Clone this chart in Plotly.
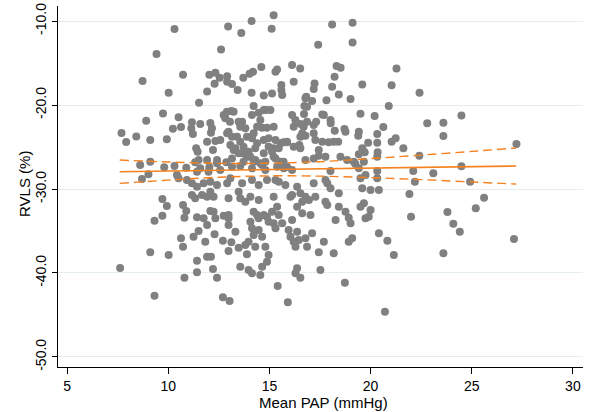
import plotly.graph_objects as go

# ---- scatter data: Mean PAP (mmHg) vs RVLS (%) ----
mean_pap = [
    10.31, 9.42, 8.73, 10.73, 10.02, 12.61, 12.96, 12.03, 12.33, 12.54, 12.29, 12.91, 12.91, 11.92, 11.52,
    13.61, 14.12, 15.11, 15.21, 17.41, 18.10, 19.11, 19.11, 14.60, 14.19, 14.02, 13.71, 13.15, 13.43, 15.38,
    15.30, 16.12, 16.52, 18.32, 18.52, 18.22, 16.20, 15.59, 15.59, 15.63, 15.13, 14.72, 14.12, 17.23, 17.19,
    16.82, 17.11, 17.82, 18.10, 18.43, 19.01, 19.59, 21.04, 21.28, 22.42, 20.90,
    9.74, 8.91, 10.51, 7.69, 7.92, 8.42, 9.11, 9.93, 10.23, 10.63, 11.17, 11.14, 11.22, 11.58, 12.08,
    12.16, 12.11, 11.92, 12.33, 12.57, 11.38, 11.45, 12.21, 12.82, 8.61, 9.11, 9.80, 10.31, 10.89, 11.33,
    11.50, 12.03, 12.41, 12.87, 13.05, 13.48, 13.56, 13.81, 14.39, 14.64, 14.88, 15.21, 14.96, 15.30, 15.70,
    15.87, 14.22, 14.47, 14.84, 14.14, 13.12, 12.90, 16.73, 16.71, 16.12, 16.28, 16.55, 16.86, 17.31, 17.61,
    18.02, 18.03, 19.50, 20.20, 20.63, 20.33, 19.42, 19.39, 18.23, 18.71, 18.76, 18.40, 12.98, 13.15, 13.07,
    13.31, 13.56, 13.72, 13.65, 13.97, 14.14, 14.30, 14.06, 14.30, 13.72, 13.15, 14.96, 15.13, 15.46, 15.87,
    15.30, 15.70, 14.80, 14.64, 16.62, 16.78, 17.19, 17.27, 17.61, 17.93, 16.48, 16.53, 17.44, 17.44, 17.77,
    16.78, 17.19, 19.88, 20.33, 19.59, 19.71, 19.42, 20.35, 19.17, 19.67, 20.33, 21.04, 21.24, 24.49, 22.80,
    23.60, 23.60, 21.62, 22.41, 27.21, 24.49, 22.11, 18.51, 18.84, 19.25, 11.42, 11.58, 11.92, 11.99, 12.41,
    12.57, 13.23, 13.48, 13.89, 14.22, 14.55, 14.72, 15.21, 15.55, 15.87, 12.74, 13.23, 13.65, 13.89, 14.55,
    14.72, 15.05, 12.91, 13.40, 14.22, 14.39, 14.72, 15.21, 15.55, 16.20, 16.53, 16.69, 16.20, 17.19, 17.69,
    16.78, 16.86, 18.18, 19.42, 20.33, 19.75, 19.50, 20.33, 23.10,
    9.02, 8.70, 10.43, 10.51, 10.92, 11.17, 11.42, 11.75, 12.08, 12.41, 12.91, 11.17, 11.33, 11.67, 11.92,
    12.24, 12.08, 9.71, 9.93, 9.71, 9.32, 10.73, 10.89, 10.80, 11.42, 11.75, 11.92, 12.08, 12.24, 12.33,
    12.74, 12.98, 12.98, 10.63, 10.73, 11.25, 11.50, 11.83, 12.29, 12.70, 12.98, 9.11, 10.02, 7.62, 11.92,
    12.11, 11.42, 11.42, 12.21, 12.41, 10.80, 9.32, 12.70, 13.03,
    13.15, 13.56, 14.14, 14.80, 15.38, 15.71, 16.12, 18.02, 13.07, 13.65, 14.14, 14.47, 14.88, 15.30, 15.46,
    15.79, 16.37, 17.19, 17.77, 17.86, 18.02, 19.59, 20.00, 20.41, 18.43, 17.27, 12.98, 13.48, 13.56, 13.81,
    14.06, 14.47, 15.21, 16.12, 16.53, 16.78, 16.95, 16.62, 16.37, 16.04, 17.77, 17.86, 18.43, 18.76, 18.92,
    19.01, 19.50, 19.67, 19.75, 19.91, 20.00, 18.27, 12.98, 13.32, 14.22, 14.39, 14.47, 14.72, 14.88, 14.96,
    15.13, 15.38, 15.46, 15.21, 15.30, 15.63, 16.12, 16.62, 17.03, 14.06, 14.14, 14.22, 13.97, 14.47, 14.64,
    14.80, 14.96, 14.88, 14.64, 14.55, 14.30, 13.81, 13.48, 13.89, 13.12, 15.95, 16.37, 16.04, 16.20, 16.45,
    16.78, 17.11, 16.86, 16.29, 17.69, 17.44, 18.18, 18.92, 19.09, 20.41, 20.83, 21.15, 13.56, 13.97, 14.14,
    16.37, 16.29, 16.53, 17.52, 15.41, 18.73, 15.91, 20.71,
    22.19, 24.92, 21.92, 25.61, 25.20, 23.80, 22.00, 24.09, 24.41, 27.09, 23.60,
]
rvls = [
    -10.95, -13.93, -17.14, -16.39, -18.54, -13.37, -10.63, -16.39, -16.15, -16.75, -17.46, -16.58, -17.23, -18.37, -19.73,
    -11.43, -10.00, -10.92, -9.29, -12.82, -10.39, -10.20, -12.54, -15.48, -16.04, -16.27, -16.75, -17.50, -18.21, -15.75,
    -16.04, -15.24, -15.63, -15.36, -15.56, -16.63, -17.23, -17.62, -18.21, -18.81, -18.61, -18.85, -18.54, -17.42, -18.10,
    -19.01, -19.52, -19.44, -17.82, -18.73, -19.29, -17.54, -17.65, -15.63, -18.54, -20.12,
    -20.99, -21.87, -21.46, -23.33, -24.40, -23.73, -24.17, -24.08, -22.82, -22.62, -22.06, -22.77, -23.45, -22.26, -22.14,
    -22.77, -23.30, -24.37, -24.29, -24.17, -25.15, -25.56, -25.36, -21.58, -27.14, -26.75, -27.42, -27.26, -27.46, -26.82,
    -26.55, -27.42, -26.55, -26.82, -21.99, -21.99, -22.58, -22.77, -22.58, -22.70, -22.70, -22.58, -23.96, -24.17, -24.44,
    -24.44, -20.12, -20.92, -20.60, -21.19, -20.71, -20.80, -20.12, -21.07, -21.19, -21.79, -22.26, -21.99, -21.99, -21.11,
    -21.79, -22.18, -21.04, -21.31, -22.62, -23.45, -23.18, -23.65, -23.06, -22.86, -23.18, -24.37, -23.18, -23.77, -24.76,
    -25.15, -24.37, -24.96, -25.75, -25.56, -23.96, -25.15, -26.15, -26.55, -26.75, -26.35, -24.96, -25.56, -25.15, -24.37,
    -26.35, -26.75, -26.75, -27.14, -23.37, -23.65, -23.37, -24.17, -24.37, -24.44, -24.76, -25.15, -25.36, -26.04, -26.15,
    -26.55, -26.35, -24.49, -24.49, -25.15, -25.63, -25.87, -25.63, -26.75, -26.75, -26.15, -24.37, -23.96, -21.23, -22.18,
    -22.11, -23.69, -25.15, -26.04, -24.64, -27.30, -27.86, -26.15, -26.55, -27.02, -27.94, -27.54, -26.55, -27.94, -26.94,
    -27.74, -25.36, -25.75, -26.15, -26.75, -26.94, -25.75, -26.15, -26.75, -27.35, -21.19, -20.80, -21.99, -23.77, -21.79,
    -20.60, -20.60, -23.37, -23.77, -23.37, -24.56, -24.17, -25.15, -24.56, -24.96, -23.77, -22.58, -22.58, -22.38, -21.19,
    -19.20, -20.20, -24.37, -27.54, -27.86, -28.33, -28.73, -28.73, -28.13,
    -28.25, -28.81, -28.33, -28.73, -28.93, -29.32, -29.73, -29.32, -29.13, -29.52, -29.32, -30.71, -31.11, -30.71, -30.92,
    -30.92, -30.32, -31.19, -32.02, -33.18, -33.77, -31.90, -32.62, -33.42, -33.37, -33.49, -34.29, -32.62, -32.70, -33.49,
    -33.18, -33.49, -34.29, -35.87, -36.87, -35.68, -35.00, -36.27, -35.39, -36.15, -37.38, -37.54, -37.86, -39.40, -38.06,
    -38.06, -38.54, -39.92, -39.52, -40.56, -40.56, -42.70, -42.89, -43.33,
    -27.35, -27.26, -27.54, -27.74, -27.35, -27.54, -27.74, -27.86, -28.73, -29.32, -28.93, -29.52, -28.93, -28.93, -29.13,
    -29.52, -29.73, -29.32, -28.93, -29.32, -29.92, -29.92, -30.12, -30.12, -30.51, -30.92, -31.11, -30.32, -31.11, -31.51,
    -30.92, -31.31, -30.92, -30.71, -30.51, -30.92, -31.31, -31.51, -32.11, -30.92, -31.51, -31.90, -32.11, -32.70, -33.42,
    -34.08, -32.11, -31.70, -33.49, -33.30, -32.50, -33.69, -33.10, -35.08, -32.70, -33.10, -33.49, -33.10, -33.30, -33.89,
    -32.70, -32.11, -33.10, -34.08, -34.68, -34.08, -33.69, -32.89, -33.10, -33.89, -34.68, -35.48, -36.27, -34.88, -35.68,
    -36.87, -37.86, -38.65, -39.25, -40.24, -36.87, -36.67, -36.99, -37.77, -36.35, -34.88, -35.08, -35.68, -36.27, -36.07,
    -35.87, -35.27, -36.87, -36.87, -36.27, -37.54, -37.65, -36.27, -35.87, -35.27, -36.15, -37.86, -39.25, -39.64, -40.04,
    -39.44, -40.04, -40.56, -39.64, -41.55, -41.15, -43.49, -44.61,
    -29.13, -29.13, -30.60, -31.04, -32.30, -32.74, -33.30, -34.13, -35.08, -35.95, -37.65,
]

# ---- fitted line and 95% CI ----
fit_x = [7.6, 10, 12.5, 15, 17.5, 20, 22.5, 25, 27.2]
fit_y = [-27.94, -27.86, -27.77, -27.68, -27.60, -27.51, -27.42, -27.34, -27.26]
ci_upper = [-26.55, -26.78, -26.94, -26.93, -26.74, -26.38, -25.96, -25.52, -25.11]
ci_lower = [-29.33, -28.94, -28.60, -28.43, -28.47, -28.64, -28.88, -29.16, -29.41]

x_ticks = [5, 10, 15, 20, 25, 30]
y_ticks = [-50, -40, -30, -20, -10]
y_ticktext = ["-50.0", "-40.0", "-30.0", "-20.0", "-10.0"]

ORANGE = "#f5821f"

# plot-area geometry (pixels)
L, R, T, B = 58, 9, 6, 45
W, H = 592, 412
PW, PH = W - L - R, H - T - B

fig = go.Figure()
fig.add_trace(go.Scatter(
    x=mean_pap, y=rvls, mode="markers",
    marker=dict(color="#808080", size=8, line=dict(width=0)),
    hoverinfo="skip",
))
for ys in (ci_upper, ci_lower):
    fig.add_trace(go.Scatter(
        x=fit_x, y=ys, mode="lines", line_shape="spline",
        line=dict(color=ORANGE, width=1.4, dash="9px,5px"),
        hoverinfo="skip",
    ))
fig.add_trace(go.Scatter(
    x=fit_x, y=fit_y, mode="lines",
    line=dict(color=ORANGE, width=1.6),
    hoverinfo="skip",
))

fig.update_layout(
    width=W, height=H,
    margin=dict(l=L, r=R, t=T, b=B, autoexpand=False),
    plot_bgcolor="white", paper_bgcolor="white",
    showlegend=False,
    font=dict(family="Liberation Sans, Arial, sans-serif", size=14, color="black"),
    annotations=[
        dict(text="Mean PAP (mmHg)", xref="paper", yref="paper",
             x=(323 - L) / PW, y=(H - B - 402) / PH,
             xanchor="center", yanchor="middle", showarrow=False,
             font=dict(size=15)),
        dict(text="RVLS (%)", xref="paper", yref="paper",
             x=(25 - L) / PW, y=(H - B - 184) / PH, textangle=-90,
             xanchor="center", yanchor="middle", showarrow=False,
             font=dict(size=15)),
    ],
)
fig.update_xaxes(
    range=[4.55, 30.5], tickvals=x_ticks, automargin=False,
    ticks="outside", ticklen=6, tickcolor="black", tickwidth=1,
    ticklabelstandoff=0,
    showline=True, linecolor="black", linewidth=1,
    showgrid=False, zeroline=False,
)
fig.update_yaxes(
    range=[-51.2, -8.2], tickvals=y_ticks, ticktext=y_ticktext, tickangle=-90,
    automargin=False,
    ticks="outside", ticklen=5, tickcolor="black", tickwidth=1,
    showline=True, linecolor="black", linewidth=1,
    showgrid=True, gridcolor="#e4eef0", gridwidth=1, zeroline=False,
)

fig.write_html(
    "out.html",
    config={"displayModeBar": False},
    post_script="document.body.style.margin='0';document.body.style.padding='0';",
)
